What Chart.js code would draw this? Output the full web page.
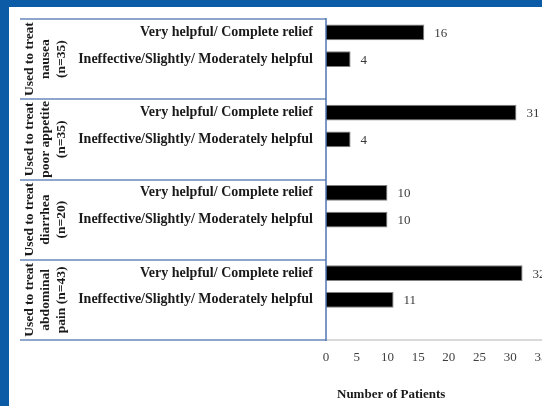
<!DOCTYPE html>
<html>
<head>
<meta charset="utf-8">
<script src="https://cdn.jsdelivr.net/npm/chart.js@4"></script>
<style>
  html, body { margin: 0; padding: 0; background: #0b5ba6; overflow: hidden; }
  #frame { position: absolute; left: 9px; top: 7px; width: 560px; height: 399px; background: #fff; }
</style>
</head>
<body>
<div id="frame"><canvas id="chartRelief" width="560" height="399"></canvas></div>
<script>
// ---- data ----
var groupLines = [
    ['Used to treat', 'nausea', '(n=35)'],
    ['Used to treat', 'poor appetite', '(n=35)'],
    ['Used to treat', 'diarrhea', '(n=20)'],
    ['Used to treat', 'abdominal', 'pain (n=43)']
];
var responseLabels = ['Very helpful/ Complete relief', 'Ineffective/Slightly/ Moderately helpful'];
var helpfulCounts = [16, 31, 10, 32];
var ineffectiveCounts = [4, 4, 10, 11];
var xMin = 0, xMax = 35, xStep = 5;
var axisTitle = 'Number of Patients';

// each group gets two rows plus an empty spacer row
var labels = [], values = [];
groupLines.forEach(function(g, i) {
    labels.push(responseLabels[0], responseLabels[1], '');
    values.push(helpfulCounts[i], ineffectiveCounts[i], null);
});

var SERIF = '"Liberation Serif", "DejaVu Serif", serif';
var BOX = '#8ea6cc';

var tablePlugin = {
    id: 'tablePlugin',
    afterDraw: function(chart) {
        var ctx = chart.ctx, area = chart.chartArea;
        var slot = (area.bottom - area.top) / labels.length;
        var left = 11;
        ctx.save();

        // group separators
        ctx.strokeStyle = BOX;
        ctx.lineWidth = 2;
        for (var g = 0; g <= groupLines.length; g++) {
            var yy = Math.round(area.top + g * slot * 3);
            ctx.beginPath(); ctx.moveTo(left, yy); ctx.lineTo(area.left, yy); ctx.stroke();
        }
        // axis line continuing right
        ctx.strokeStyle = '#d9d9d9';
        ctx.beginPath(); ctx.moveTo(area.left, area.bottom); ctx.lineTo(chart.width, area.bottom); ctx.stroke();
        // vertical box line at value zero
        ctx.strokeStyle = '#4f74b3';
        ctx.lineWidth = 1.5;
        ctx.beginPath(); ctx.moveTo(area.left, area.top - 1); ctx.lineTo(area.left, area.bottom + 1); ctx.stroke();

        // rotated group labels
        ctx.fillStyle = '#1a1a1a';
        ctx.font = 'bold 13.5px ' + SERIF;
        ctx.textAlign = 'center';
        ctx.textBaseline = 'middle';
        groupLines.forEach(function(lines, gi) {
            var cy = area.top + (gi * 3 + 1.5) * slot;
            lines.forEach(function(t, li) {
                ctx.save();
                ctx.translate(21 + li * 16, cy);
                ctx.rotate(-Math.PI / 2);
                ctx.fillText(t, 0, 0);
                ctx.restore();
            });
        });

        // value labels
        ctx.fillStyle = '#3a3a3a';
        ctx.font = '13px ' + SERIF;
        ctx.textAlign = 'left';
        chart.getDatasetMeta(0).data.forEach(function(bar, i) {
            if (values[i] == null) return;
            ctx.fillText(String(values[i]), bar.x + 10, bar.y + 1);
        });

        // axis title
        ctx.fillStyle = '#1a1a1a';
        ctx.font = 'bold 13px ' + SERIF;
        ctx.fillText(axisTitle, area.left + 11, 388);
        ctx.restore();
    }
};

new Chart(document.getElementById('chartRelief'), {
    type: 'bar',
    data: {
        labels: labels,
        datasets: [{
            data: values,
            backgroundColor: '#000',
            borderColor: '#808080',
            borderWidth: 1,
            barPercentage: 0.58,
            categoryPercentage: 1
        }]
    },
    options: {
        indexAxis: 'y',
        responsive: false,
        animation: false,
        layout: { padding: { top: 12, right: 28, left: 0, bottom: 0 } },
        plugins: { legend: { display: false }, tooltip: { enabled: false } },
        scales: {
            x: {
                min: xMin, max: xMax,
                grid: { display: false, drawTicks: false },
                border: { display: false },
                ticks: { stepSize: xStep, padding: 10, color: '#3f3f3f', font: { family: SERIF, size: 13 } },
                afterFit: function(s) { s.height = 66; }
            },
            y: {
                grid: { display: false, drawTicks: false },
                border: { display: false },
                ticks: { padding: 13, color: '#1a1a1a', font: { family: SERIF, size: 14, weight: 'bold' } },
                afterFit: function(s) { s.width = 317; s.paddingTop = 0; s.paddingBottom = 0; }
            }
        }
    },
    plugins: [tablePlugin]
});
</script>
</body>
</html>
